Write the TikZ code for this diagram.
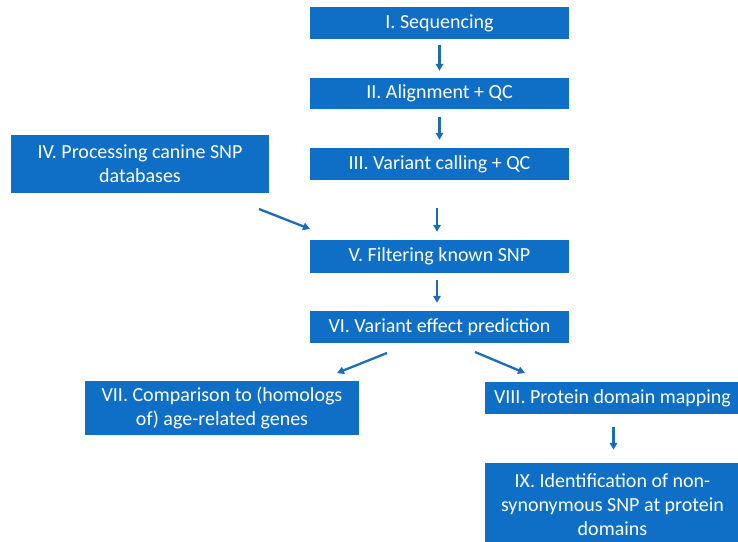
\documentclass[tikz,border=0pt]{standalone}
\usepackage{fontspec}
\setmainfont{Carlito}
\usetikzlibrary{arrows.meta}
\definecolor{boxblue}{HTML}{0F6FC6}
\definecolor{arrblue}{HTML}{1C6DB8}
\begin{document}
\begin{tikzpicture}[x=1pt,y=-1pt,
  stepbox/.style={fill=boxblue, draw=none, text=white, inner sep=0pt, align=center,
    font=\fontsize{20}{24}\selectfont},
  arr/.style={draw=arrblue, line width=2.3pt, -{Triangle[length=7pt,width=7.5pt]}}]
\useasboundingbox (0,0) rectangle (738,541);
\node[stepbox, minimum width=259pt, minimum height=32pt] (s1) at (439.5,23) {I. Sequencing};
\node[stepbox, minimum width=259pt, minimum height=31pt] (s2) at (439.5,93.5) {II. Alignment + QC};
\node[stepbox, minimum width=259pt, minimum height=32pt] (s3) at (439.5,164) {III. Variant calling + QC};
\node[stepbox, minimum width=258pt, minimum height=58pt] (s4) at (140,164) {IV. Processing canine SNP\\databases};
\node[stepbox, minimum width=259pt, minimum height=33pt] (s5) at (439.5,256.5) {V. Filtering known SNP};
\node[stepbox, minimum width=259pt, minimum height=32pt] (s6) at (439.5,327) {VI. Variant effect prediction};
\node[stepbox, minimum width=274pt, minimum height=54pt] (s7) at (222,408) {VII. Comparison to (homologs\\of) age-related genes};
\node[stepbox, minimum width=255pt, minimum height=32pt] (s8) at (612.5,398) {VIII. Protein domain mapping};
\node[stepbox, minimum width=255pt, minimum height=84pt] (s9) at (612.5,505) {IX. Identification of non-\\synonymous SNP at protein\\domains};
\coordinate (a4s) at (259,209);
\coordinate (a4e) at (310,229);
\coordinate (a7s) at (387,353);
\coordinate (a7e) at (337,373);
\coordinate (a8s) at (475,352);
\coordinate (a8e) at (525,373);
\draw[arr, shorten <=6pt, shorten >=7pt] (s1) -- (s2);
\draw[arr, shorten <=8pt, shorten >=8pt] (s2) -- (s3);
\draw[arr, shorten <=28pt, shorten >=8pt] ([xshift=-2.5pt]s3.south) -- ([xshift=-2.5pt]s5.north);
\draw[arr, shorten <=7pt, shorten >=8pt] ([xshift=-2.5pt]s5.south) -- ([xshift=-2.5pt]s6.north);
\draw[arr, shorten <=13pt, shorten >=13pt] ([xshift=1pt]s8.south) -- ([xshift=1pt]s9.north);
\draw[arr] (a4s) -- (a4e);
\draw[arr] (a7s) -- (a7e);
\draw[arr] (a8s) -- (a8e);
\end{tikzpicture}
\end{document}
